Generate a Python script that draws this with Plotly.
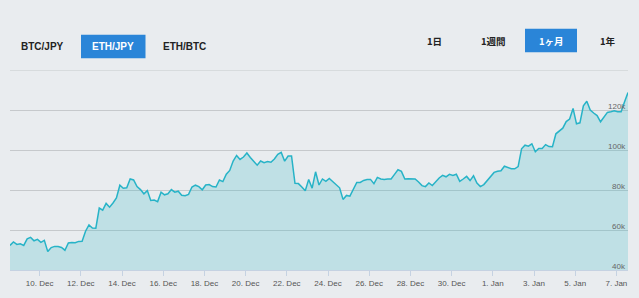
import plotly.graph_objects as go
import pandas as pd

# ETH/JPY price (thousand JPY), 4-hour samples
start_time = "2017-12-08 13:30"
price_k = [
    52.3, 54.0, 52.8, 53.1, 52.3, 55.6, 56.3, 54.6, 55.3, 53.8,
    54.8, 49.2, 51.2, 51.8, 51.7, 51.3, 49.9, 53.5, 53.8, 53.6,
    54.3, 54.4, 59.4, 62.5, 61.0, 60.9, 71.0, 69.9, 73.3, 71.4,
    73.5, 76.0, 82.4, 80.9, 81.1, 85.5, 85.0, 81.7, 80.2, 78.1,
    79.7, 74.8, 75.0, 74.2, 78.9, 77.6, 78.1, 80.2, 78.9, 79.4,
    77.4, 77.1, 77.8, 81.5, 82.4, 81.7, 80.1, 82.5, 82.7, 81.7,
    81.5, 85.0, 84.2, 87.9, 89.8, 94.5, 97.3, 95.3, 96.5, 98.5,
    96.3, 94.2, 92.4, 94.5, 93.7, 94.2, 93.9, 95.5, 97.8, 98.8,
    94.4, 97.0, 97.0, 83.3, 83.2, 81.5, 79.6, 85.3, 80.9, 89.1,
    82.5,
    85.5, 84.3, 85.8, 84.3, 82.5, 81.1, 75.3, 77.3, 76.9, 80.4,
    83.8, 83.8, 84.8, 85.2, 85.3, 83.2, 86.3, 85.5, 85.3, 85.5,
    85.5, 87.8, 90.1, 89.3, 85.5, 85.6, 85.6, 85.5, 84.0, 82.2,
    81.7, 83.5, 82.2, 84.3, 86.0, 87.3, 86.6, 87.8, 87.3, 87.9,
    84.3, 85.5, 86.8, 84.7, 87.1, 83.5, 81.7, 82.7, 84.8, 86.6,
    88.8, 89.4, 89.6, 91.9, 91.2, 90.6, 90.6, 91.7, 100.6, 102.4,
    101.9, 103.1, 99.1, 100.8, 100.8, 102.7, 101.7, 101.6, 108.1, 109.5,
    110.9, 114.2, 115.5, 120.8, 113.1, 113.6, 122.1, 124.4, 120.0, 118.5,
    117.2, 114.1, 116.4, 118.8, 119.1, 119.6, 119.1, 119.1, 124.1, 128.7,
]
times = pd.date_range(start_time, periods=len(price_k), freq="4h")
x_range = [times[0], times[-1]]

y_ticks = [40, 60, 80, 100, 120, 140]
y_labels = ["40k", "60k", "80k", "100k", "120k", ""]

pair_tabs = ["BTC/JPY", "ETH/JPY", "ETH/BTC"]
period_tabs = ["1日", "1週間", "1ヶ月", "1年"]

BG = "#e9ecef"
BLUE = "#2a85d8"
LINE = "#27b3c7"
GRID = "#c6c9cc"

W, H = 639, 298
L, R, T, B = 10, 11, 70, 24
PW, PH = W - L - R, H - T - B


def px(x):
    return (x - L) / PW


def py(y):
    return (H - B - y) / PH


fig = go.Figure()
fig.add_trace(go.Scatter(
    x=times, y=price_k, mode="lines",
    line=dict(color=LINE, width=1.5),
    fill="tozeroy", fillcolor="rgba(43,182,198,0.22)",
    hoverinfo="skip",
))

shapes = []
annotations = []

# top grid line at the range edge
shapes.append(dict(type="line", xref="paper", yref="y", x0=0, x1=1,
                   y0=y_ticks[-1], y1=y_ticks[-1],
                   line=dict(color=GRID, width=1), layer="below"))

# pair tabs (left)
pair_centers = [42, 113, 184]
for label, cx in zip(pair_tabs, pair_centers):
    active = label == "ETH/JPY"
    if active:
        shapes.append(dict(type="rect", xref="paper", yref="paper",
                           x0=px(81), x1=px(145.5), y0=py(58), y1=py(34),
                           fillcolor=BLUE, line=dict(width=0), layer="above"))
    annotations.append(dict(text=f"<b>{label}</b>", xref="paper", yref="paper",
                            x=px(cx), y=py(46), showarrow=False,
                            xanchor="center", yanchor="middle",
                            font=dict(family="Liberation Sans", size=10,
                                      color="white" if active else "#222")))

# period tabs (right)
period_centers = [434.5, 493, 551, 607.5]
for label, cx in zip(period_tabs, period_centers):
    active = label == "1ヶ月"
    if active:
        shapes.append(dict(type="rect", xref="paper", yref="paper",
                           x0=px(525), x1=px(577), y0=py(52), y1=py(28),
                           fillcolor=BLUE, line=dict(width=0), layer="above"))
    annotations.append(dict(text=f"<b>{label}</b>", xref="paper", yref="paper",
                            x=px(cx), y=py(40.5), showarrow=False,
                            xanchor="center", yanchor="middle",
                            font=dict(family="Noto Sans CJK JP", size=9.5,
                                      color="white" if active else "#222")))

# y-axis labels drawn inside the plot, right-aligned just above each grid line
for v, t in zip(y_ticks, y_labels):
    if not t:
        continue
    annotations.append(dict(text=t, xref="paper", yref="y", x=1, y=v,
                            xanchor="right", yanchor="middle", yshift=4,
                            showarrow=False,
                            font=dict(family="Liberation Sans", size=8, color="#666")))

fig.update_layout(
    width=W, height=H,
    margin=dict(l=L, r=R, t=T, b=B, pad=0),
    paper_bgcolor=BG, plot_bgcolor=BG,
    showlegend=False,
    shapes=shapes,
    annotations=annotations,
    xaxis=dict(
        type="date", range=x_range,
        tickformat="%-d. %b", tick0="2017-12-10", dtick=2 * 24 * 3600 * 1000,
        showgrid=False, zeroline=False,
        showline=True, linecolor="#c5d2e2", linewidth=1,
        ticks="outside", ticklen=5, tickcolor="#c5d2e2",
        tickfont=dict(family="Liberation Sans", size=8, color="#555"),
        fixedrange=True,
    ),
    yaxis=dict(
        range=[40, 140], side="right",
        tickvals=y_ticks, showticklabels=False, ticks="",
        showgrid=True, gridcolor=GRID, gridwidth=1,
        zeroline=False, showline=False,
        fixedrange=True,
    ),
)

fig.write_html(
    "out.html",
    config={"displayModeBar": False},
    post_script="document.body.style.margin='0';document.body.style.background='#e9ecef';",
)
